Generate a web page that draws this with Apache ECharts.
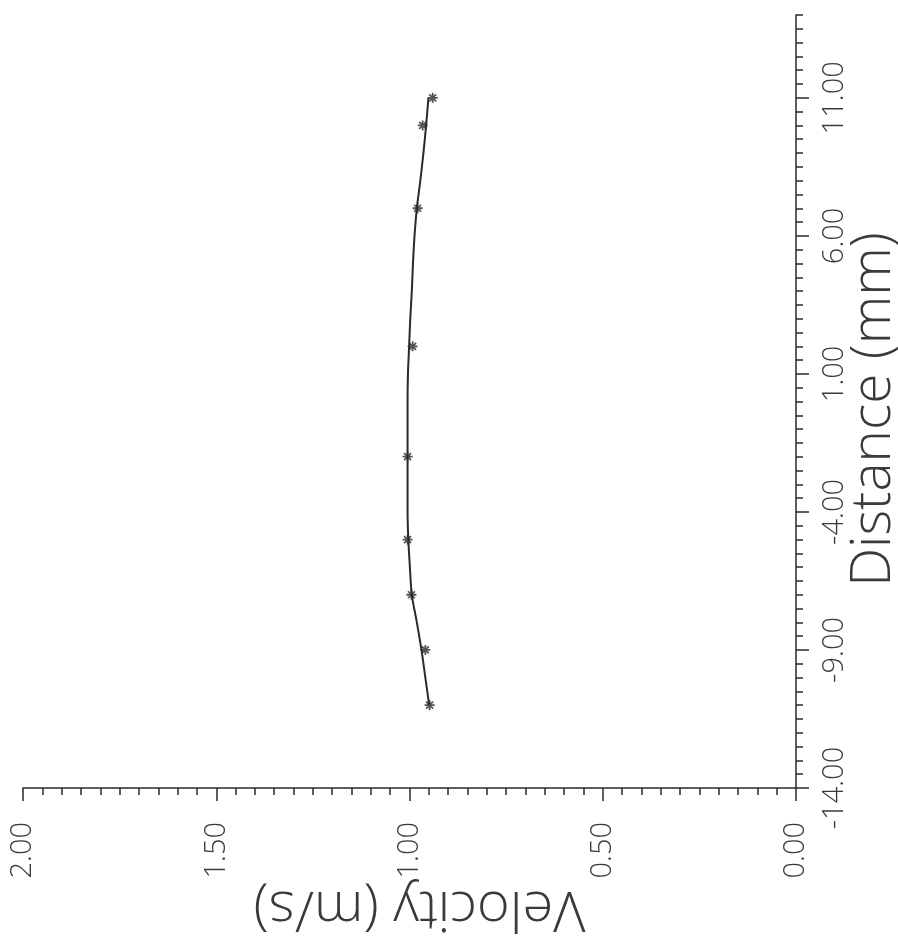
<!DOCTYPE html>
<html><head><meta charset="utf-8">
<script src="https://cdn.jsdelivr.net/npm/echarts@6/dist/echarts.min.js"></script>
<style>html,body{margin:0;padding:0;background:#fff}#c{width:898px;height:941px}</style>
</head><body><div id="c"></div>
<script>
// Measured points (asterisks)
const distanceMarks = [11, 10, 7, 2, -2, -5, -7, -9, -11];
const velocityMarks = [0.940, 0.966, 0.979, 0.992, 1.005, 1.005, 0.995, 0.959, 0.948];
// Fitted curve
const distanceCurve = [11, 10, 9, 8, 7, 6, 5, 4, 3, 2, 1, 0, -1, -2, -3, -4, -5, -6, -7, -8, -9, -10, -11];
const velocityCurve = [0.951, 0.957, 0.964, 0.972, 0.981, 0.987, 0.991, 0.994, 0.998, 1.001, 1.004, 1.005, 1.005, 1.005, 1.005, 1.005, 1.003, 0.999, 0.994, 0.981, 0.969, 0.959, 0.949];
// Axis ticks
const distanceTicks = [-14, -9, -4, 1, 6, 11];
const velocityTicks = [0, 0.5, 1, 1.5, 2];

const ink = '#2a2a2a';
const textInk = '#3a3a3a';
const labelFont = "'Open Sans', 'Liberation Sans', sans-serif";
const nameFont = "'Open Sans', 'DejaVu Sans', sans-serif";

const markData = distanceMarks.map((d, i) => [velocityMarks[i], d]);
const curveData = distanceCurve.map((d, i) => [velocityCurve[i], d]);

const asterisk = 'path://M-0.9,-5H0.9V5H-0.9Z M-5,-0.9H5V0.9H-5Z M-4.1,-2.9L-2.9,-4.1L4.1,2.9L2.9,4.1Z M2.9,-4.1L4.1,-2.9L-2.9,4.1L-4.1,2.9Z';

const chart = echarts.init(document.getElementById('c'), null, {renderer: 'canvas'});
chart.setOption({
  animation: false,
  backgroundColor: '#ffffff',
  grid: {left: 23, right: 102, top: 15, bottom: 153, containLabel: false, outerBoundsMode: 'none'},
  xAxis: {
    type: 'value', min: 0, max: 2, interval: 0.5, inverse: true, position: 'bottom',
    name: 'Velocity (m/s)', nameLocation: 'middle', nameRotate: 180, nameGap: 92, nameMoveOverlap: false,
    nameTextStyle: {fontFamily: nameFont, fontWeight: 300, fontSize: 56, color: textInk, padding: [0, 20, 0, 0]},
    axisLine: {show: true, onZero: false, lineStyle: {color: ink, width: 1.5}},
    axisTick: {show: true, inside: false, length: 13, lineStyle: {color: ink, width: 1.5}, customValues: velocityTicks},
    minorTick: {show: true, splitNumber: 10, length: 7, lineStyle: {color: ink, width: 1.5}},
    axisLabel: {show: true, rotate: 90, margin: 34, fontFamily: labelFont, fontWeight: 300, fontSize: 29, color: textInk,
      customValues: velocityTicks, formatter: v => v.toFixed(2)},
    splitLine: {show: false}, minorSplitLine: {show: false}
  },
  yAxis: [
    {
      type: 'value', min: -14, max: 14, interval: 0.5, position: 'right',
      axisLine: {show: true, onZero: false, lineStyle: {color: ink, width: 1.5}},
      axisTick: {show: true, inside: false, length: 7, lineStyle: {color: ink, width: 1.5}},
      axisLabel: {show: false},
      splitLine: {show: false}
    },
    {
      type: 'value', min: -14, max: 14, interval: 5, position: 'right',
      name: 'Distance (mm)', nameLocation: 'middle', nameRotate: 90, nameGap: 51, nameMoveOverlap: false,
      nameTextStyle: {fontFamily: nameFont, fontWeight: 300, fontSize: 55, color: textInk, padding: [0, 16, 0, 0]},
      axisLine: {show: false, onZero: false},
      axisTick: {show: true, inside: false, length: 13, customValues: distanceTicks, lineStyle: {color: ink, width: 1.5}},
      axisLabel: {show: true, rotate: 90, margin: 24, fontFamily: labelFont, fontWeight: 300, fontSize: 29, color: textInk,
        customValues: distanceTicks, formatter: v => v.toFixed(2)},
      splitLine: {show: false}
    }
  ],
  series: [
    {
      type: 'line', yAxisIndex: 0, data: curveData, smooth: 0.3, showSymbol: false,
      lineStyle: {color: ink, width: 2}
    },
    {
      type: 'scatter', yAxisIndex: 0, data: markData, symbol: asterisk, symbolSize: 10,
      itemStyle: {color: ink}
    }
  ]
});
</script></body></html>
